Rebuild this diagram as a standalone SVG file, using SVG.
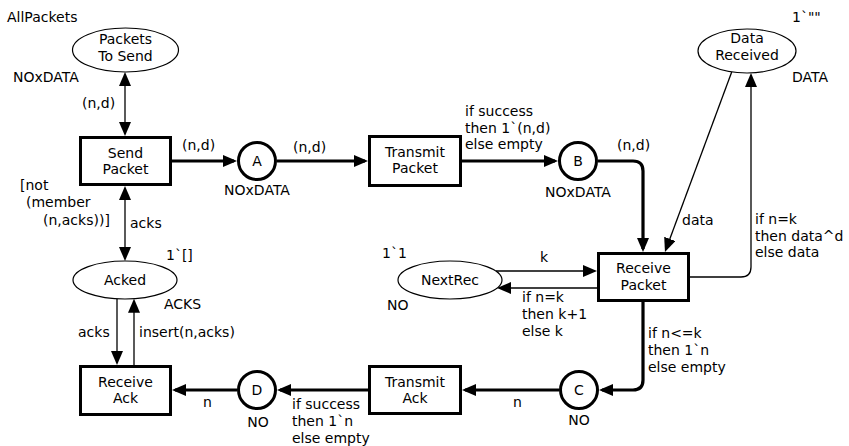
<svg xmlns="http://www.w3.org/2000/svg" width="849" height="446" viewBox="0 0 849 446">
  <style>
    text { font-family: "DejaVu Sans", Verdana, sans-serif; font-size: 14px; fill: #000; }
    .c { text-anchor: middle; }
    .place { fill: #fff; stroke: #000; stroke-width: 1.2; }
    .port { fill: #fff; stroke: #000; stroke-width: 3; }
    .trans { fill: #fff; stroke: #000; stroke-width: 3; }
    .arc { fill: none; stroke: #000; stroke-width: 1.3; marker-end: url(#ah); }
    .thick { stroke-width: 3.2; }
    .both { marker-start: url(#ah); }
  </style>
  <defs>
    <marker id="ah" viewBox="0 0 14 12" refX="11" refY="6" markerWidth="14" markerHeight="12" markerUnits="userSpaceOnUse" orient="auto-start-reverse">
      <path d="M0,0 L14,6 L0,12 z" fill="#000"/>
    </marker>
  </defs>
  <rect width="849" height="446" fill="#fff"/>

  <!-- arcs -->
  <g id="arcs">
    <path class="arc thick" d="M172,161 H234"/>
    <path class="arc thick" d="M277,161 H365"/>
    <path class="arc thick" d="M462,161 H555"/>
    <path class="arc thick" d="M598,161 H633 Q643,161 643,171 V249"/>
    <path class="arc thick" d="M643,302 V380 Q643,390 633,390 H602"/>
    <path class="arc thick" d="M559,390 H465"/>
    <path class="arc thick" d="M368,390 H280"/>
    <path class="arc thick" d="M237,390 H175"/>
    <path class="arc both" d="M125,75 V133"/>
    <path class="arc both" d="M125,189 V258"/>
    <path class="arc" d="M117,299 V362"/>
    <path class="arc" d="M134,365 V301.7"/>
    <path class="arc" d="M496,271 H594"/>
    <path class="arc" d="M597,288 H500"/>
    <path class="arc" d="M731.7,71.9 L666,249.2"/>
    <path class="arc" d="M690,277 H741 Q751,277 751,267 V76"/>
  </g>

  <!-- places -->
  <g id="packets-to-send">
    <ellipse class="place" cx="125.5" cy="50" rx="53" ry="22"/>
    <text class="c" x="125.5" y="43.5">Packets</text>
    <text class="c" x="125.5" y="60.5">To Send</text>
    <text x="7" y="22">AllPackets</text>
    <text x="13" y="82">NOxDATA</text>
  </g>
  <g id="place-a">
    <circle class="port" cx="257" cy="161" r="18.5"/>
    <text class="c" x="257" y="166">A</text>
    <text class="c" x="257" y="195">NOxDATA</text>
  </g>
  <g id="place-b">
    <circle class="port" cx="578" cy="161" r="18.5"/>
    <text class="c" x="578" y="166">B</text>
    <text class="c" x="578" y="197">NOxDATA</text>
  </g>
  <g id="data-received">
    <ellipse class="place" cx="747" cy="51" rx="49" ry="22"/>
    <text class="c" x="747" y="42.5">Data</text>
    <text class="c" x="747" y="59.5">Received</text>
    <text x="792" y="22">1`""</text>
    <text x="792" y="82">DATA</text>
  </g>
  <g id="next-rec">
    <ellipse class="place" cx="450" cy="280" rx="52" ry="19"/>
    <text class="c" x="450" y="285">NextRec</text>
    <text x="382" y="258">1`1</text>
    <text x="387" y="310">NO</text>
  </g>
  <g id="acked">
    <ellipse class="place" cx="125" cy="280" rx="52" ry="19"/>
    <text class="c" x="125" y="285">Acked</text>
    <text x="166" y="260">1`[]</text>
    <text x="164" y="309">ACKS</text>
  </g>
  <g id="place-c">
    <circle class="port" cx="579" cy="390" r="18.5"/>
    <text class="c" x="579" y="395">C</text>
    <text class="c" x="579" y="425">NO</text>
  </g>
  <g id="place-d">
    <circle class="port" cx="257" cy="390" r="18.5"/>
    <text class="c" x="257" y="395">D</text>
    <text class="c" x="258" y="427">NO</text>
  </g>

  <!-- transitions -->
  <g id="send-packet">
    <rect class="trans" x="80.5" y="137.5" width="90" height="47"/>
    <text class="c" x="125.5" y="157.5">Send</text>
    <text class="c" x="125.5" y="174">Packet</text>
    <text x="20" y="190">[not</text>
    <text x="26" y="207">(member</text>
    <text x="43" y="225">(n,acks))]</text>
  </g>
  <g id="transmit-packet">
    <rect class="trans" x="369.5" y="136.5" width="91" height="49"/>
    <text class="c" x="415" y="157">Transmit</text>
    <text class="c" x="415" y="173">Packet</text>
  </g>
  <g id="receive-packet">
    <rect class="trans" x="598.5" y="253.5" width="90" height="47"/>
    <text class="c" x="643.5" y="273">Receive</text>
    <text class="c" x="643.5" y="290">Packet</text>
  </g>
  <g id="transmit-ack">
    <rect class="trans" x="369.5" y="366.5" width="91" height="47"/>
    <text class="c" x="415" y="387">Transmit</text>
    <text class="c" x="415" y="403">Ack</text>
  </g>
  <g id="receive-ack">
    <rect class="trans" x="80.5" y="366.5" width="90" height="48"/>
    <text class="c" x="125.5" y="387">Receive</text>
    <text class="c" x="125.5" y="403">Ack</text>
  </g>

  <!-- arc inscriptions -->
  <g id="inscriptions">
    <text x="82" y="108">(n,d)</text>
    <text x="182" y="150">(n,d)</text>
    <text x="293" y="152">(n,d)</text>
    <text x="465" y="116">if success</text>
    <text x="465" y="133">then 1`(n,d)</text>
    <text x="465" y="149">else empty</text>
    <text x="617" y="150">(n,d)</text>
    <text x="682" y="225">data</text>
    <text x="755" y="224">if n=k</text>
    <text x="755" y="241">then data^d</text>
    <text x="755" y="257">else data</text>
    <text x="540" y="262">k</text>
    <text x="522" y="302">if n=k</text>
    <text x="522" y="319">then k+1</text>
    <text x="522" y="336">else k</text>
    <text x="648" y="338">if n&lt;=k</text>
    <text x="648" y="355">then 1`n</text>
    <text x="648" y="372">else empty</text>
    <text x="513" y="407">n</text>
    <text x="292" y="409">if success</text>
    <text x="292" y="426">then 1`n</text>
    <text x="292" y="443">else empty</text>
    <text x="203" y="407">n</text>
    <text x="130" y="228">acks</text>
    <text x="78" y="337">acks</text>
    <text x="139" y="337">insert(n,acks)</text>
  </g>
</svg>
